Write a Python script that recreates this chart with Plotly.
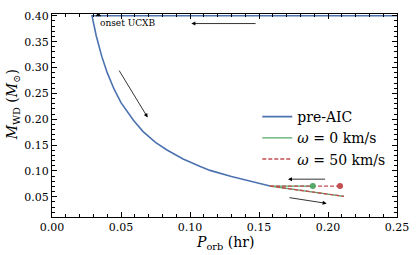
import plotly.graph_objects as go

# pre-AIC evolutionary track (P_orb in hr, M_WD in Msun)
pre_P = [0.260, 0.250, 0.200, 0.150, 0.100, 0.050, 0.0290, 0.0320, 0.0360, 0.0400, 0.0450,
         0.0500, 0.0590, 0.0660, 0.0750, 0.0830, 0.0950, 0.1070, 0.1145, 0.1300,
         0.1450, 0.1580]
pre_M = [0.400, 0.400, 0.400, 0.400, 0.400, 0.400, 0.400, 0.362, 0.322, 0.290, 0.258,
         0.232, 0.198, 0.176, 0.155, 0.141, 0.123, 0.109, 0.101, 0.089,
         0.079, 0.0706]

# post-AIC, omega = 0 km/s
w0_up_P = [0.158, 0.189]
w0_up_M = [0.0706, 0.0706]
w0_dn_P = [0.158, 0.2116]
w0_dn_M = [0.0706, 0.0507]
w0_end_P = [0.189]
w0_end_M = [0.0706]

# post-AIC, omega = 50 km/s
w50_up_P = [0.158, 0.2087]
w50_up_M = [0.0706, 0.0706]
w50_dn_P = [0.158, 0.2116]
w50_dn_M = [0.0706, 0.0507]
w50_end_P = [0.2087]
w50_end_M = [0.0706]

onset_P = [0.0336]
onset_M = [0.4015]

# arrows: (x_tail, y_tail, x_head, y_head)
arrows = [
    (0.1486, 0.385, 0.1010, 0.385),
    (0.0480, 0.297, 0.0693, 0.2035),
    (0.1990, 0.084, 0.1710, 0.084),
    (0.1710, 0.0487, 0.1990, 0.0371),
]

BLUE = "#4C72B0"
GREEN = "#55A868"
RED = "#C44E52"
FONT = "DejaVu Serif"

fig = go.Figure()
fig.add_trace(go.Scatter(x=pre_P, y=pre_M, mode="lines", line=dict(color=BLUE, width=1.6),
                         name="pre-AIC"))
fig.add_trace(go.Scatter(x=w0_up_P, y=w0_up_M, mode="lines", line=dict(color=GREEN, width=1.4),
                         name="<i>ω</i> = 0 km/s"))
fig.add_trace(go.Scatter(x=w0_dn_P, y=w0_dn_M, mode="lines", line=dict(color=GREEN, width=1.4),
                         showlegend=False))
fig.add_trace(go.Scatter(x=w50_up_P, y=w50_up_M, mode="lines",
                         line=dict(color=RED, width=1.4, dash="4px,2px"),
                         name="<i>ω</i> = 50 km/s"))
fig.add_trace(go.Scatter(x=w50_dn_P, y=w50_dn_M, mode="lines",
                         line=dict(color=RED, width=1.4, dash="4px,2px"), showlegend=False))
fig.add_trace(go.Scatter(x=w0_end_P, y=w0_end_M, mode="markers",
                         marker=dict(size=6, color=GREEN), showlegend=False))
fig.add_trace(go.Scatter(x=w50_end_P, y=w50_end_M, mode="markers",
                         marker=dict(size=6, color=RED), showlegend=False))
fig.add_trace(go.Scatter(x=onset_P, y=onset_M, mode="markers",
                         marker=dict(symbol="triangle-up", size=5, color="black"), showlegend=False))

for (x0, y0, x1, y1) in arrows:
    fig.add_annotation(x=x1, y=y1, ax=x0, ay=y0, xref="x", yref="y", axref="x", ayref="y",
                       text="", showarrow=True, arrowhead=2, arrowsize=1.0, arrowwidth=0.8,
                       arrowcolor="black")

fig.add_annotation(x=onset_P[0], y=0.386, xref="x", yref="y", text="onset UCXB", showarrow=False,
                   xanchor="left", yanchor="middle", font=dict(family=FONT, size=9, color="black"))

# axis titles
fig.add_annotation(x=0.5, y=-0.128, xref="paper", yref="paper", showarrow=False,
                   text="<i>P</i><sub>orb</sub> (hr)", xanchor="center", yanchor="middle",
                   font=dict(family=FONT, size=14, color="black"))
fig.add_annotation(x=-0.113, y=0.55, xref="paper", yref="paper", showarrow=False, textangle=-90,
                   text="<i>M</i><sub>WD</sub> (<i>M</i><sub>⊙</sub>)", xanchor="center",
                   yanchor="middle", font=dict(family=FONT, size=14, color="black"))

axis_common = dict(showline=True, linecolor="black", linewidth=1.2, mirror="allticks",
                   ticks="inside", ticklen=5, tickwidth=1, tickcolor="black",
                   showgrid=False, zeroline=False, automargin=False,
                   tickfont=dict(family=FONT, size=11, color="black"))

fig.update_xaxes(range=[0, 0.25], tick0=0, dtick=0.05, tickformat=".2f",
                 minor=dict(dtick=0.01, ticks="inside", ticklen=3, tickwidth=1, tickcolor="black",
                            showgrid=False),
                 **axis_common)
fig.update_yaxes(range=[0.0108, 0.4035], tick0=0.05, dtick=0.05, tickformat=".2f",
                 minor=dict(dtick=0.01, ticks="inside", ticklen=3, tickwidth=1, tickcolor="black",
                            showgrid=False),
                 **axis_common)

fig.update_layout(width=416, height=255, margin=dict(l=52, r=19, t=14, b=38),
                  plot_bgcolor="white", paper_bgcolor="white", template="simple_white",
                  font=dict(family=FONT, color="black"),
                  legend=dict(x=0.595, y=0.389, xanchor="left", yanchor="middle",
                              xref="paper", yref="paper",
                              bgcolor="rgba(0,0,0,0)", font=dict(family=FONT, size=14),
                              tracegroupgap=0))

fig.write_html("out.html", config={"displayModeBar": False},
               post_script="document.body.style.margin='0px';document.body.style.overflow='hidden';")
